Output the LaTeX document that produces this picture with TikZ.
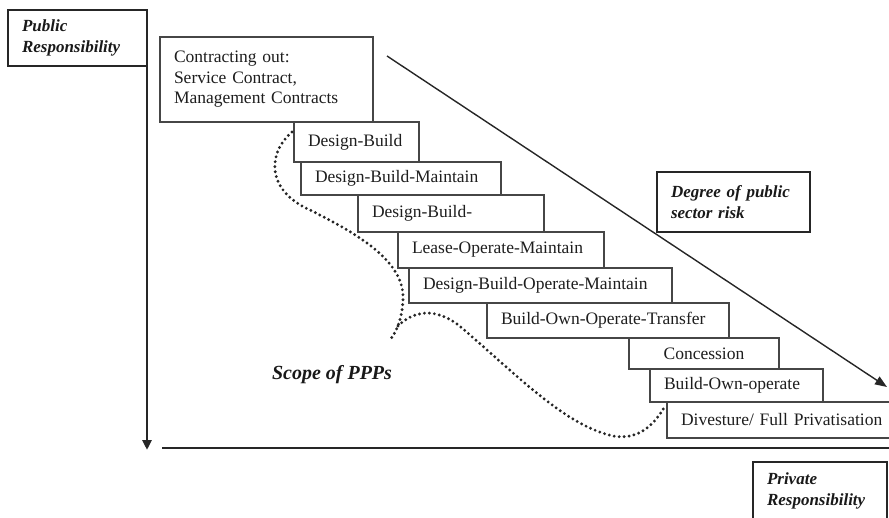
\documentclass[tikz,border=0pt]{standalone}
\usepackage{fontspec}
\setmainfont{Liberation Serif}
\usetikzlibrary{arrows.meta, positioning}

\definecolor{boxgray}{RGB}{70,70,70}
\definecolor{inkgray}{RGB}{30,30,30}

\begin{document}
\begin{tikzpicture}[x=1pt, y=-1pt, font=\fontsize{17.5}{20.5}\selectfont, text=inkgray,
		stepbox/.style={draw=boxgray, line width=1.6pt, fill=white, anchor=north west,
			inner xsep=14pt, inner ysep=0pt, outer sep=0pt, align=left},
		sidebox/.style={draw=black!85, line width=2pt, anchor=north west, text=black!90,
			inner xsep=14pt, inner ysep=0pt, outer sep=0pt, align=left,
			font=\fontsize{17}{21}\selectfont\bfseries\itshape},
		axis/.style={draw=black!85, line width=2.6pt},
		ppprange/.style={draw=black!85, line width=3.2pt, line cap=round, dash pattern=on 0pt off 5pt}]

		\useasboundingbox (0,0) rectangle (889,518);

		% Nodes
		\node (pub) [sidebox, text width=111pt, minimum height=56pt] at (8,10) {Public\\Responsibility};
		\node (contract) [stepbox, text width=185pt, minimum height=85pt] at (160,37) {Contracting out:\\Service Contract,\\Management Contracts};
		\node (db) [stepbox, text width=97pt, minimum height=40pt, below right=0pt and 134pt of contract.south west] {Design-Build};
		\node (dbm) [stepbox, text width=172pt, minimum height=33pt, below right=0pt and 7pt of db.south west] {Design-Build-Maintain};
		\node (dbx) [stepbox, text width=158pt, minimum height=37pt, below right=0pt and 57pt of dbm.south west] {Design-Build-};
		\node (lom) [stepbox, text width=178pt, minimum height=36pt, below right=0pt and 40pt of dbx.south west] {Lease-Operate-Maintain};
		\node (dbom) [stepbox, text width=235pt, minimum height=35pt, below right=0pt and 11pt of lom.south west] {Design-Build-Operate-Maintain};
		\node (boot) [stepbox, text width=214pt, minimum height=35pt, below right=0pt and 78pt of dbom.south west] {Build-Own-Operate-Transfer};
		\node (conc) [stepbox, text width=122pt, minimum height=31pt, align=center, below right=0pt and 142pt of boot.south west] {Concession};
		\node (boo) [stepbox, text width=145pt, minimum height=33pt, below right=0pt and 21pt of conc.south west] {Build-Own-operate};
		\node (div) [stepbox, text width=205pt, minimum height=36pt, below right=0pt and 17pt of boo.south west] {Divesture/ Full Privatisation};
		\node (risk) [sidebox, text width=125pt, minimum height=60pt] at (657,172) {Degree of public\\sector risk};
		\node (priv) [sidebox, text width=106pt, minimum height=58pt] at (753,462) {Private\\Responsibility};
		\node (ppp) [font=\fontsize{20}{24}\selectfont\bfseries\itshape, text=black!90] at (332,375) {Scope of PPPs};

		\coordinate (vend) at (147,450);
		\coordinate (hstart) at (162,448);
		\coordinate (hend) at (889,448);
		\coordinate (riskstart) at (387,56);
		\coordinate (riskend) at (887,387);

		% Edges
		\draw[axis, -{Triangle[length=10pt, width=9pt]}] (pub.south east) -- (vend);
		\draw[axis] (hstart) -- (hend);
		\draw[draw=black!85, line width=1.4pt, -{Triangle[length=12pt, width=9pt]}] (riskstart) -- (riskend);

		% Scope bracket
		\draw[ppprange] (292,132) .. controls (268,152) and (265,190) .. (310,210)
			.. controls (360,235) and (405,262) .. (403,300)
			.. controls (402,320) and (396,332) .. (390,340);
		\draw[ppprange] (398,326) .. controls (412,312) and (435,305) .. (462,328)
			.. controls (520,378) and (565,425) .. (613,436)
			.. controls (640,441) and (656,422) .. (665,406);
	\end{tikzpicture}
\end{document}
